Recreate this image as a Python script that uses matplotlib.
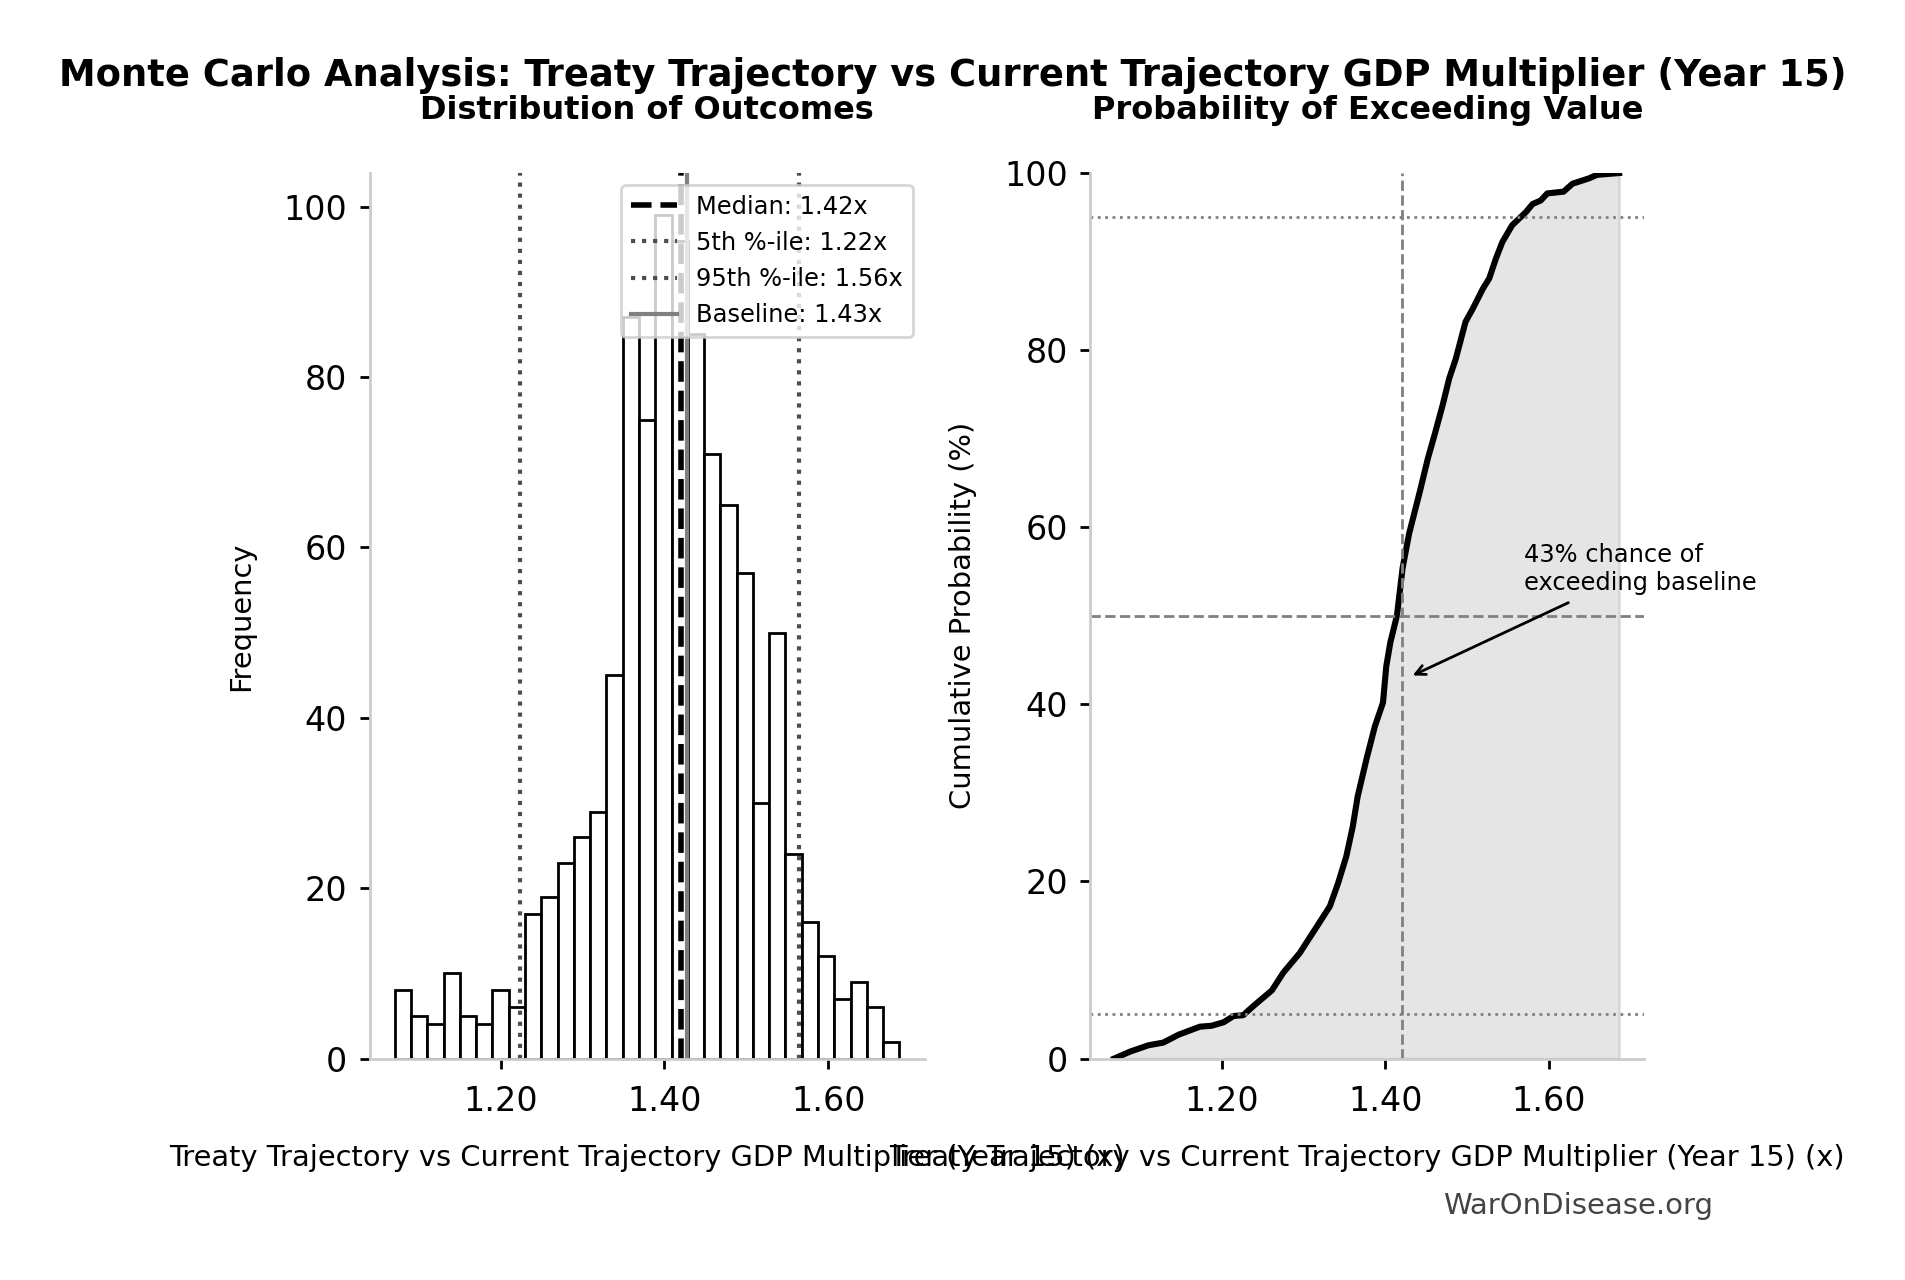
import numpy as np
import matplotlib
matplotlib.use("Agg")
import matplotlib.pyplot as plt

# ---------------- data ----------------
hist_start = 1.071
hist_bin_width = 0.01986
hist_counts = [8, 5, 4, 10, 5, 4, 8, 6, 17, 19, 23, 26, 29, 45, 87, 75, 99, 96, 85,
               71, 65, 57, 30, 50, 24, 16, 12, 7, 9, 6, 2]

median_val = 1.4207
p5_val = 1.2236
p95_val = 1.5638
baseline_val = 1.4272
exceed_pct = 43

cdf_x = [1.068, 1.088, 1.110, 1.128, 1.147, 1.173, 1.187, 1.202, 1.214, 1.226,
         1.238, 1.261, 1.275, 1.295, 1.316, 1.332, 1.342, 1.352, 1.360, 1.366,
         1.377, 1.387, 1.397, 1.401, 1.406, 1.414, 1.421, 1.429, 1.442, 1.452,
         1.460, 1.470, 1.478, 1.486, 1.498, 1.507, 1.519, 1.527, 1.535, 1.543,
         1.555, 1.572, 1.580, 1.590, 1.598, 1.618, 1.629, 1.649, 1.659, 1.686]
cdf_pct = [0.0, 0.8, 1.5, 1.8, 2.7, 3.6, 3.7, 4.1, 4.8, 4.9,
           5.9, 7.7, 9.7, 11.9, 14.9, 17.2, 19.8, 22.8, 26.2, 29.6,
           33.9, 37.5, 40.2, 44.3, 47.0, 50.0, 55.4, 59.3, 64.0, 67.8,
           70.4, 73.8, 76.8, 79.0, 83.2, 84.7, 86.9, 88.1, 90.3, 92.2,
           94.1, 95.6, 96.5, 96.9, 97.7, 97.9, 98.8, 99.4, 99.8, 100.0]

suptitle = "Monte Carlo Analysis: Treaty Trajectory vs Current Trajectory GDP Multiplier (Year 15)"
xlabel = "Treaty Trajectory vs Current Trajectory GDP Multiplier (Year 15) (x)"

# ---------------- figure ----------------
fig = plt.figure(figsize=(9.53, 6.4), dpi=200)
ax1 = fig.add_axes([0.1939, 0.1730, 0.2912, 0.6918])
ax2 = fig.add_axes([0.5719, 0.1730, 0.2909, 0.6918])

spine_col = "#cccccc"
for ax in (ax1, ax2):
    for s in ("top", "right"):
        ax.spines[s].set_visible(False)
    for s in ("left", "bottom"):
        ax.spines[s].set_color(spine_col)
        ax.spines[s].set_linewidth(1.0)
    ax.tick_params(labelsize=12, colors="black", width=1.0)
    ax.tick_params(axis="x", pad=6)
    ax.tick_params(axis="y", pad=4.5)
    ax.xaxis.set_major_formatter(matplotlib.ticker.FormatStrFormatter("%.2f"))

# ---- left: histogram ----
edges = hist_start + hist_bin_width * np.arange(len(hist_counts) + 1)
ax1.bar(edges[:-1], hist_counts, width=hist_bin_width, align="edge",
        color="white", edgecolor="black", linewidth=1.0)
ax1.axvline(median_val, color="black", linestyle="--", linewidth=2,
            label=f"Median: {median_val:.2f}x")
ax1.axvline(p5_val, color="#4d4d4d", linestyle=":", linewidth=1.5,
            label=f"5th %-ile: {p5_val:.2f}x")
ax1.axvline(p95_val, color="#4d4d4d", linestyle=":", linewidth=1.5,
            label=f"95th %-ile: {p95_val:.2f}x")
ax1.axvline(baseline_val, color="gray", linestyle="-", linewidth=1.5,
            label=f"Baseline: {baseline_val:.2f}x")
ax1.set_xticks([1.2, 1.4, 1.6])
ax1.set_yticks([0, 20, 40, 60, 80, 100])
ax1.set_ylabel("Frequency", fontsize=10.4)
ax1.yaxis.set_label_coords(-0.206, 0.5)
ax1.set_xlabel(xlabel, fontsize=10.4)
ax1.xaxis.set_label_coords(0.5, -0.097)
ax1.set_title("Distribution of Outcomes", fontsize=11.5, fontweight="bold", pad=19.5)
leg = ax1.legend(loc="upper right", fontsize=8.7, labelspacing=0.5, handlelength=1.9)
leg.get_frame().set_edgecolor("#cccccc")

# ---- right: CDF ----
ax2.fill_between(cdf_x, cdf_pct, 0, color="gray", alpha=0.2)
ax2.plot(cdf_x, cdf_pct, color="black", linewidth=2.2)
ax2.axvline(median_val, color="gray", linestyle="--", linewidth=1)
ax2.axhline(50, color="gray", linestyle="--", linewidth=1)
ax2.axhline(5, color="gray", linestyle=":", linewidth=1)
ax2.axhline(95, color="gray", linestyle=":", linewidth=1)
ax2.set_ylim(0, 100)
ax2.set_xlim(1.0385, 1.717)
ax2.set_xticks([1.2, 1.4, 1.6])
ax2.set_yticks([0, 20, 40, 60, 80, 100])
ax2.set_ylabel("Cumulative Probability (%)", fontsize=10.4)
ax2.yaxis.set_label_coords(-0.204, 0.5)
ax2.set_xlabel(xlabel, fontsize=10.4)
ax2.xaxis.set_label_coords(0.5, -0.097)
ax2.set_title("Probability of Exceeding Value", fontsize=11.5, fontweight="bold", pad=19.5)
ax2.annotate(f"{exceed_pct}% chance of\nexceeding baseline",
             xy=(baseline_val, exceed_pct), xytext=(1.570, 55.3),
             fontsize=8.7, va="center", ha="left",
             arrowprops=dict(arrowstyle="->", color="black", lw=1))

fig.suptitle(suptitle, fontsize=13.3, fontweight="bold", y=0.941, va="center")
fig.text(0.828, 0.058, "WarOnDisease.org", fontsize=10.5, color="#444444",
         ha="center", va="center")

fig.savefig("out.png", dpi=200, facecolor="white")
